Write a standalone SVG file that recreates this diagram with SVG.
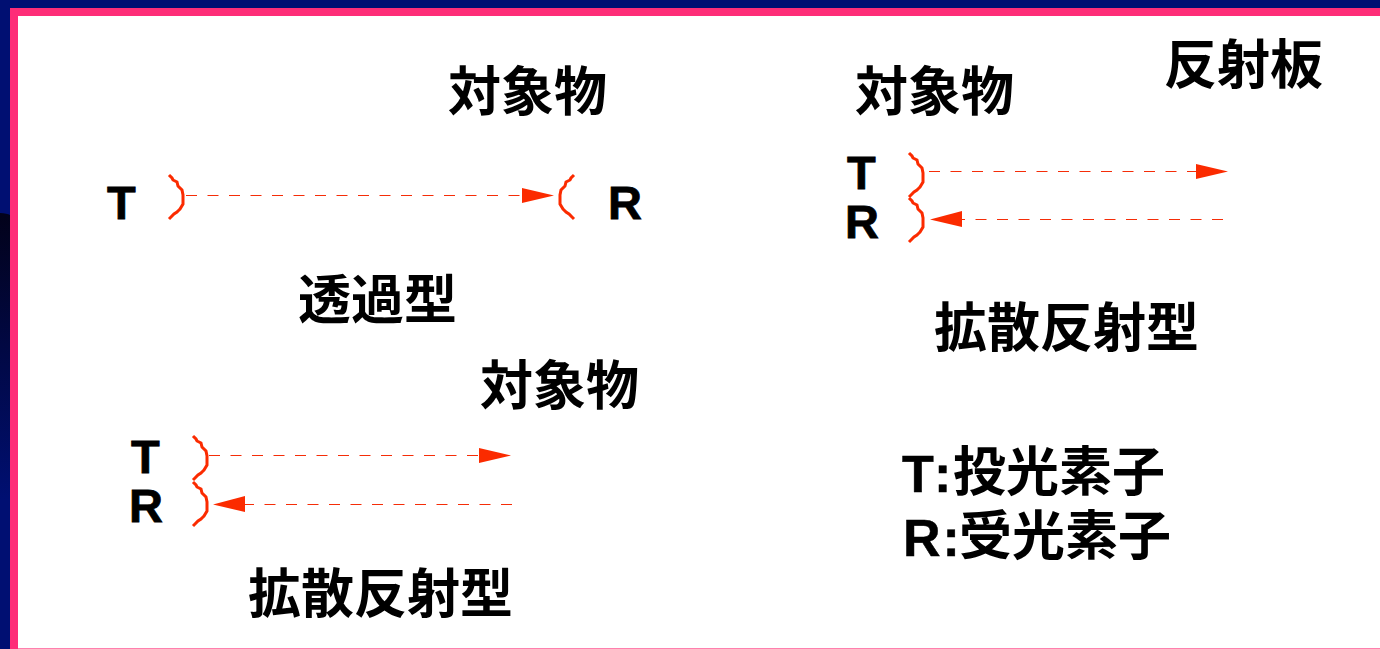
<svg xmlns="http://www.w3.org/2000/svg" width="1380" height="649" viewBox="0 0 1380 649">
<defs>
<style>
.t{font-family:"Noto Sans CJK JP","Liberation Sans",sans-serif;font-weight:700;font-size:53px;fill:#000}
.l{font-family:"Liberation Sans",sans-serif;font-weight:700;font-size:47px;fill:#000;stroke:#000;stroke-width:.8}
.m{font-family:"Liberation Sans",sans-serif;font-weight:700;font-size:52px;fill:#000;stroke:#000;stroke-width:.5}
.d{stroke:#f52d08;stroke-width:1;stroke-dasharray:11 10.5;fill:none}
.b{stroke:#fb2b00;stroke-width:3;fill:none}
.a{fill:#fb2b00}
</style>
<linearGradient id="g" x1="0" y1="0" x2="0" y2="1"><stop offset="0" stop-color="#02021a"/><stop offset="1" stop-color="#000f72"/></linearGradient>
<path id="brR" d="M0 0L3 3L4 5L8 7L9 11L13 15L14 20L14 29L11 34L9 36L8 37L5 39L2 42L0 44"/>
<path id="brL" d="M0 0L-3 3L-4 5L-8 7L-9 11L-13 15L-14 20L-14 29L-11 34L-9 36L-8 37L-5 39L-2 42L0 44"/>
</defs>
<rect width="1380" height="649" fill="#000f72"/>
<path d="M0 213C5 213 8 214 10 215V500H0Z" fill="url(#g)"/>
<rect x="10" y="8" width="1370" height="641" fill="#fe2d78"/>
<rect x="18" y="16" width="1362" height="632" fill="#fff"/>
<rect x="18" y="648" width="1362" height="1" fill="#ff7fae"/>
<g id="connectors">
<path class="d" d="M186 195.500H522"/><path class="a" d="M522 188L554 195.500L522 203Z"/>
<path class="d" d="M929 171.500H1196"/><path class="a" d="M1196 164L1228 171.500L1196 179Z"/>
<path class="d" d="M1223 219.500H962"/><path class="a" d="M962 211L930 219.500L962 227Z"/>
<path class="d" d="M209 455.500H479"/><path class="a" d="M479 448L511 455.500L479 463Z"/>
<path class="d" d="M512 504.500H245"/><path class="a" d="M245 496L213 504.500L245 512Z"/>
</g>
<g id="node-transmit">
<text class="t" x="448" y="111">対象物</text>
<text class="l" x="107" y="218.500">T</text>
<use href="#brR" class="b" x="169" y="175"/>
<use href="#brL" class="b" x="574" y="175"/>
<text class="l" x="608" y="218.500">R</text>
<text class="t" x="298" y="319">透過型</text>
</g>
<g id="node-diffuse-right">
<text class="t" x="855" y="111">対象物</text>
<text class="t" x="1164" y="84">反射板</text>
<text class="l" x="847" y="189">T</text>
<text class="l" x="845" y="238">R</text>
<use href="#brR" class="b" x="909" y="153"/>
<use href="#brR" class="b" x="909" y="198"/>
<text class="t" x="934" y="347">拡散反射型</text>
</g>
<g id="node-diffuse-left">
<text class="t" x="480" y="405">対象物</text>
<text class="l" x="131" y="473">T</text>
<text class="l" x="129" y="522">R</text>
<use href="#brR" class="b" x="193" y="436"/>
<use href="#brR" class="b" x="193" y="482"/>
<text class="t" x="248" y="613">拡散反射型</text>
</g>
<g id="node-legend">
<text class="m" x="902" y="492" letter-spacing="6">T:</text><text class="t" x="953" y="491">投光素子</text>
<text class="m" x="903" y="556" letter-spacing="2">R:</text><text class="t" x="959" y="555">受光素子</text>
</g>
</svg>
